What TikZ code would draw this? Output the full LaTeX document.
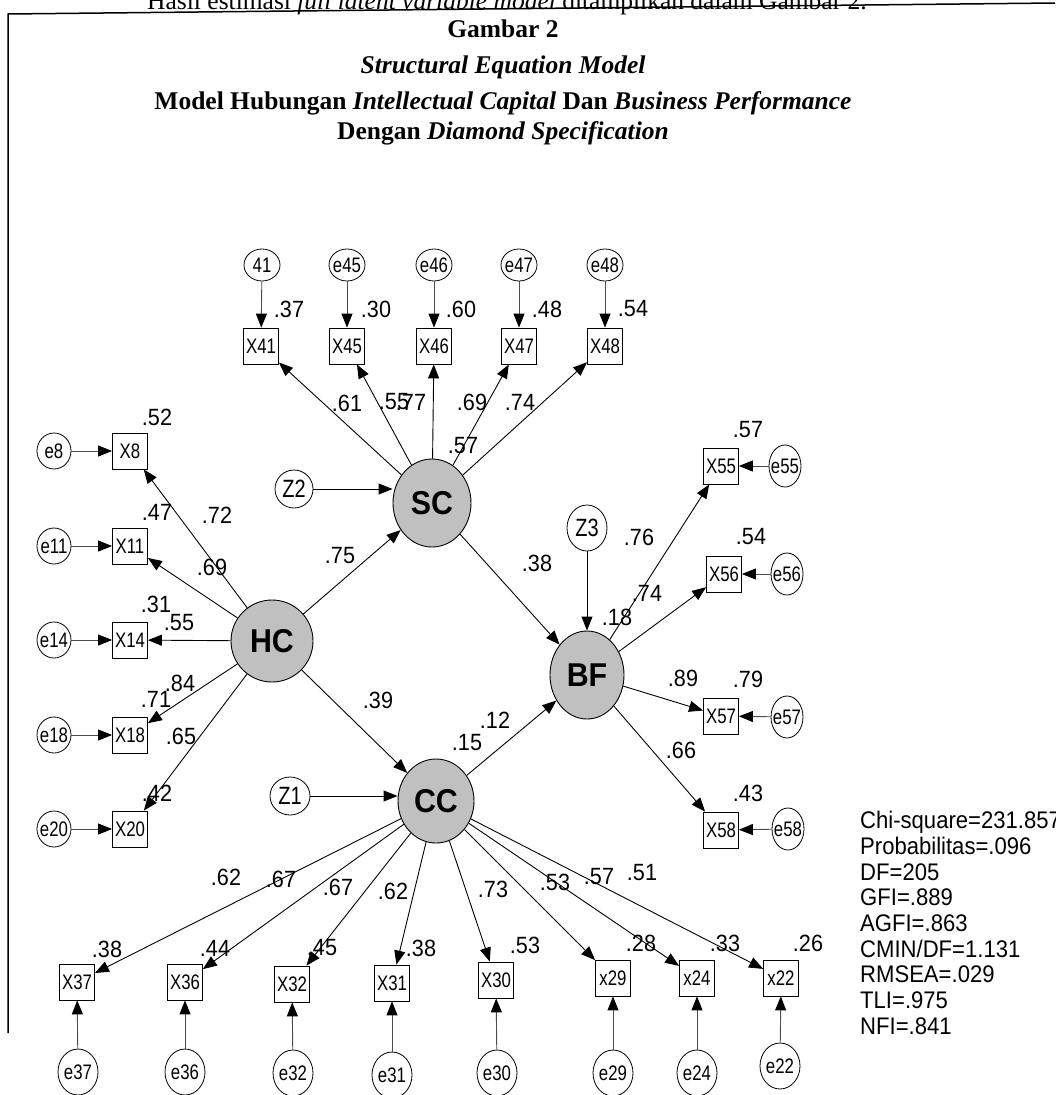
\documentclass[tikz,border=0pt]{standalone}
\usepackage{fontspec}
\setmainfont{Liberation Serif}
\newfontfamily\amosfont[FakeStretch=0.92]{Liberation Sans}
\newfontfamily\amosnarrow[FakeStretch=0.8]{Liberation Sans}
\usetikzlibrary{arrows.meta,shapes.geometric}
\definecolor{abu}{RGB}{192,192,192}

\begin{document}
\begin{tikzpicture}[x=1pt, y=-1pt,
  panah/.style={-{Triangle[length=14pt,width=11pt]}, line width=0.9pt},
  panahgalat/.style={-{Triangle[length=14pt,width=11pt,color=black]}, line width=0.9pt, draw=black!70},
  latent/.style={ellipse, draw, line width=0.9pt, fill=abu, inner sep=0pt,
    font=\amosfont\bfseries\fontsize{33}{33}\selectfont},
  indikator/.style={rectangle, draw, line width=0.8pt, minimum width=35pt,
    minimum height=36pt, inner sep=0pt, font=\amosnarrow\fontsize{21}{21}\selectfont},
  galat/.style={ellipse, draw, line width=0.8pt, inner sep=-5pt,
    font=\amosnarrow\fontsize{21}{21}\selectfont},
  galatatas/.style={galat, minimum width=36pt, minimum height=32pt},
  galatkiri/.style={galat, minimum width=34pt, minimum height=36pt},
  galatkanan/.style={galat, minimum width=32pt, minimum height=42pt},
  galatbawah/.style={galat, minimum width=40pt, minimum height=46pt},
  gangguan/.style={ellipse, draw, line width=0.8pt, inner sep=0pt,
    font=\amosnarrow\fontsize{25}{25}\selectfont},
  angka/.style={inner sep=0pt, font=\amosfont\fontsize{23.5}{23.5}\selectfont},
  judul/.style={inner sep=0pt, anchor=base, font=\bfseries\fontsize{25.5}{26}\selectfont}]

  \useasboundingbox (0,0) rectangle (1055,1095);

  % --- Kopf ---
  \node[inner sep=0pt, anchor=base, font=\fontsize{25.5}{26}\selectfont] (hasil) at (507,9)
    {Hasil estimasi \textit{full latent variable model} ditampilkan dalam Gambar 2.};
  \coordinate (ecke) at (8,14);
  \draw[line width=1.5pt] (1055,3) -- (ecke) -- (8,1033);

  \node[judul] (t1) at (503,37) {Gambar 2};
  \node[judul] (t2) at (503,73) {\textit{Structural Equation Model}};
  \node[judul] (t3) at (503,109) {Model Hubungan \textit{Intellectual Capital} Dan \textit{Business Performance}};
  \node[judul] (t4) at (503,139) {Dengan \textit{Diamond Specification}};

  % --- Variabel laten ---
  \node[latent, minimum width=82pt, minimum height=82pt] (HC) at (272,641) {HC};
  \node[latent, minimum width=78pt, minimum height=88pt] (SC) at (432,503) {SC};
  \node[latent, minimum width=74pt, minimum height=88pt] (BF) at (587,675) {BF};
  \node[latent, minimum width=76pt, minimum height=84pt] (CC) at (436,801) {CC};

  \node[gangguan, minimum width=38pt, minimum height=38pt] (Z2) at (294,489) {Z2};
  \node[gangguan, minimum width=40pt, minimum height=46pt] (Z3) at (587,528) {Z3};
  \node[gangguan, minimum width=40pt, minimum height=38pt] (Z1) at (290,796) {Z1};

  % --- Indikator SC (oben) ---
  \node[indikator] (X41) at (261,346) {X41};
  \node[indikator] (X45) at (347,346) {X45};
  \node[indikator] (X46) at (434,346) {X46};
  \node[indikator] (X47) at (519,346) {X47};
  \node[indikator] (X48) at (605,346) {X48};
  \node[galatatas] (e41) at (262,265) {41};
  \node[galatatas] (e45) at (347,265) {e45};
  \node[galatatas] (e46) at (434,265) {e46};
  \node[galatatas] (e47) at (519,265) {e47};
  \node[galatatas] (e48) at (605,265) {e48};

  % --- Indikator HC (links) ---
  \node[indikator] (X8)  at (130,451) {X8};
  \node[indikator] (X11) at (130,546) {X11};
  \node[indikator] (X14) at (130,640) {X14};
  \node[indikator] (X18) at (130,735) {X18};
  \node[indikator] (X20) at (130,829) {X20};
  \node[galatkiri] (e8)  at (54,451) {e8};
  \node[galatkiri] (e11) at (54,546) {e11};
  \node[galatkiri] (e14) at (54,640) {e14};
  \node[galatkiri] (e18) at (54,735) {e18};
  \node[galatkiri] (e20) at (54,829) {e20};

  % --- Indikator BF (rechts) ---
  \node[indikator] (X55) at (721,466) {X55};
  \node[indikator] (X56) at (724,574) {X56};
  \node[indikator] (X57) at (721,716) {X57};
  \node[indikator] (X58) at (721,830) {X58};
  \node[galatkanan] (e55) at (785,466) {e55};
  \node[galatkanan] (e56) at (787,574) {e56};
  \node[galatkanan] (e57) at (787,717) {e57};
  \node[galatkanan] (e58) at (788,829) {e58};

  % --- Indikator CC (unten) ---
  \node[indikator] (X37) at (77,982)  {X37};
  \node[indikator] (X36) at (185,982) {X36};
  \node[indikator] (X32) at (292,984) {X32};
  \node[indikator] (X31) at (392,983) {X31};
  \node[indikator] (X30) at (496,980) {X30};
  \node[indikator] (X29) at (613,978) {x29};
  \node[indikator] (X24) at (697,978) {x24};
  \node[indikator] (X22) at (781,978) {x22};
  \node[galatbawah] (e37) at (78,1072)  {e37};
  \node[galatbawah] (e36) at (185,1072) {e36};
  \node[galatbawah] (e32) at (293,1073) {e32};
  \node[galatbawah] (e31) at (392,1075) {e31};
  \node[galatbawah] (e30) at (497,1073) {e30};
  \node[galatbawah] (e29) at (613,1073) {e29};
  \node[galatbawah] (e24) at (697,1073) {e24};
  \node[galatbawah] (e22) at (780,1066) {e22};

  % --- Pfeile Laten -> Indikator ---
  \draw[panah] (SC) -- (X41);
  \draw[panah] (SC) -- (X45);
  \draw[panah] (SC) -- (X46);
  \draw[panah] (SC) -- (X47);
  \draw[panah] (SC) -- (X48);
  \draw[panah] (HC) -- (X8);
  \draw[panah] (HC) -- (X11);
  \draw[panah] (HC) -- (X14);
  \draw[panah] (HC) -- (X18);
  \draw[panah] (HC) -- (X20);
  \draw[panah] (BF) -- (X55);
  \draw[panah] (BF) -- (X56);
  \draw[panah] (BF) -- (X57);
  \draw[panah] (BF) -- (X58);
  \draw[panah] (CC) -- (X37);
  \draw[panah] (CC) -- (X36);
  \draw[panah] (CC) -- (X32);
  \draw[panah] (CC) -- (X31);
  \draw[panah] (CC) -- (X30);
  \draw[panah] (CC) -- (X29);
  \draw[panah] (CC) -- (X24);
  \draw[panah] (CC) -- (X22);

  % --- Struktur ---
  \draw[panah] (HC) -- (SC);
  \draw[panah] (HC) -- (CC);
  \draw[panah] (SC) -- (BF);
  \draw[panah] (CC) -- (BF);
  \draw[panah] (Z2) -- (Z2 -| SC.west);
  \draw[panah] (Z1) -- (Z1 -| CC.west);
  \draw[panah] (Z3) -- (BF);

  % --- Galat -> Indikator ---
  \draw[panahgalat] (e41) -- (X41);
  \draw[panahgalat] (e45) -- (X45);
  \draw[panahgalat] (e46) -- (X46);
  \draw[panahgalat] (e47) -- (X47);
  \draw[panahgalat] (e48) -- (X48);
  \draw[panahgalat] (e8)  -- (X8);
  \draw[panahgalat] (e11) -- (X11);
  \draw[panahgalat] (e14) -- (X14);
  \draw[panahgalat] (e18) -- (X18);
  \draw[panahgalat] (e20) -- (X20);
  \draw[panahgalat] (e55) -- (X55);
  \draw[panahgalat] (e56) -- (X56);
  \draw[panahgalat] (e57) -- (X57);
  \draw[panahgalat] (e58) -- (X58);
  \draw[panahgalat] (e37) -- (X37);
  \draw[panahgalat] (e36) -- (X36);
  \draw[panahgalat] (e32) -- (X32);
  \draw[panahgalat] (e31) -- (X31);
  \draw[panahgalat] (e30) -- (X30);
  \draw[panahgalat] (e29) -- (X29);
  \draw[panahgalat] (e24) -- (X24);
  \draw[panahgalat] (e22) -- (X22);

  % --- Angka: SC ---
  \node[angka] (r41) at (289,309) {.37};
  \node[angka] (r45) at (376,309) {.30};
  \node[angka] (r46) at (461,309) {.60};
  \node[angka] (r47) at (547,309) {.48};
  \node[angka] (r48) at (633,309) {.54};
  \node[angka] (l41) at (347,403) {.61};
  \node[angka] (l45) at (394,402) {.55};
  \node[angka] (l46) at (411,402) {.77};
  \node[angka] (l47) at (472,402) {.69};
  \node[angka] (l48) at (520,402) {.74};
  \node[angka] (rSC) at (463,446) {.57};

  % --- Angka: HC ---
  \node[angka] (r8)  at (157,417) {.52};
  \node[angka] (r11) at (157,512) {.47};
  \node[angka] (r14) at (156,604) {.31};
  \node[angka] (r18) at (156,699) {.71};
  \node[angka] (r20) at (157,793) {.42};
  \node[angka] (l8)  at (217,515) {.72};
  \node[angka] (l11) at (212,567) {.69};
  \node[angka] (l14) at (179,623) {.55};
  \node[angka] (l18) at (180,683) {.84};
  \node[angka] (l20) at (181,736) {.65};

  % --- Angka: Struktur ---
  \node[angka] (bHS) at (340,556) {.75};
  \node[angka] (bHC) at (378,700) {.39};
  \node[angka] (bSB) at (537,563) {.38};
  \node[angka] (bCB) at (495,720) {.12};
  \node[angka] (rCC) at (467,743) {.15};
  \node[angka] (rBF) at (617,617) {.18};

  % --- Angka: BF ---
  \node[angka] (r55) at (748,430) {.57};
  \node[angka] (r56) at (751,537) {.54};
  \node[angka] (r57) at (748,679) {.79};
  \node[angka] (r58) at (748,793) {.43};
  \node[angka] (l55) at (639,537) {.76};
  \node[angka] (l56) at (647,593) {.74};
  \node[angka] (l57) at (683,678) {.89};
  \node[angka] (l58) at (681,750) {.66};

  % --- Angka: CC ---
  \node[angka] (l37) at (226,877) {.62};
  \node[angka] (l36) at (281,879) {.67};
  \node[angka] (l32) at (338,887) {.67};
  \node[angka] (l31) at (393,891) {.62};
  \node[angka] (l30) at (493,889) {.73};
  \node[angka] (l29) at (555,882) {.53};
  \node[angka] (l24) at (599,877) {.57};
  \node[angka] (l22) at (642,873) {.51};
  \node[angka] (r37) at (107,949) {.38};
  \node[angka] (r36) at (215,948) {.44};
  \node[angka] (r32) at (322,948) {.45};
  \node[angka] (r31) at (421,948) {.38};
  \node[angka] (r30) at (525,945) {.53};
  \node[angka] (r29) at (641,943) {.28};
  \node[angka] (r24) at (725,943) {.33};
  \node[angka] (r22) at (808,943) {.26};

  % --- Kecocokan model ---
  \node[angka, anchor=north west, align=left, font=\amosfont\fontsize{24}{25.7}\selectfont]
    (fit) at (860,811) {Chi-square=231.857\\Probabilitas=.096\\DF=205\\GFI=.889\\AGFI=.863\\CMIN/DF=1.131\\RMSEA=.029\\TLI=.975\\NFI=.841};

\end{tikzpicture}
\end{document}
